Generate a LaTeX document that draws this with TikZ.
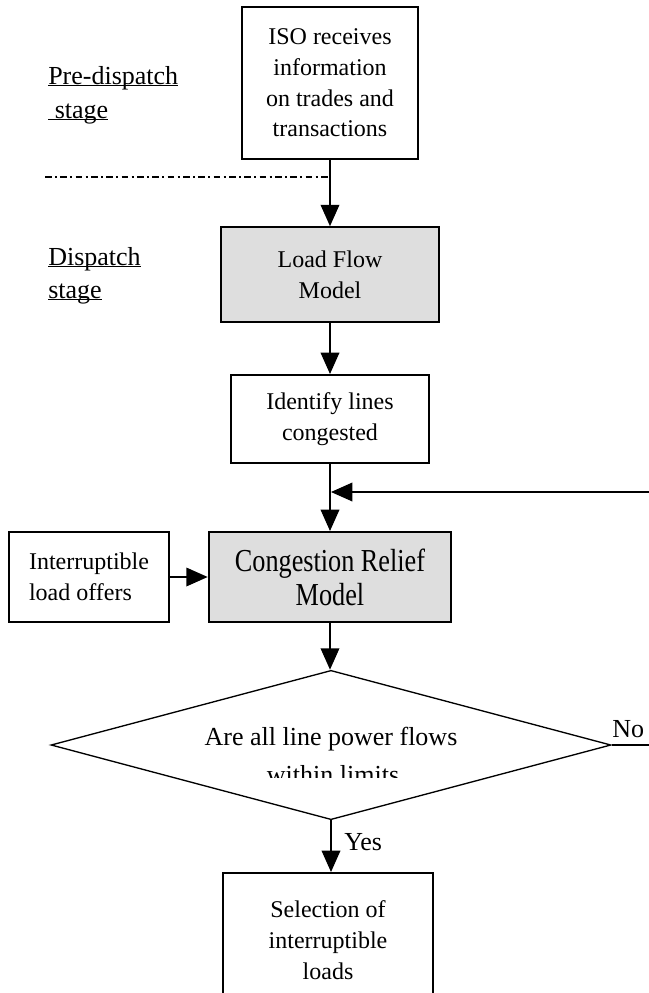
\documentclass[tikz,border=0pt]{standalone}
\usepackage{fontspec}
\setmainfont{Liberation Serif}
\newfontfamily\narrowfont[FakeStretch=0.82]{Liberation Serif}
\usepackage{tikz}
\usetikzlibrary{arrows.meta,shapes.geometric,positioning}
\definecolor{boxgrey}{gray}{0.87}
\newcommand{\stagelabel}[1]{\setbox0\hbox{#1}\rlap{\rule[-1.6pt]{\wd0}{0.9pt}}\box0}

\begin{document}
\begin{tikzpicture}[x=0.75pt,y=-0.75pt,
  box/.style={draw,line width=1.5pt,align=center,inner sep=2pt,font=\fontsize{18}{23}\selectfont},
  model/.style={box,fill=boxgrey},
  decision/.style={draw,diamond,line width=1pt,inner sep=0pt,minimum width=420pt,minimum height=112pt},
  flow/.style={line width=1pt,arrows={-Triangle[length=16pt,width=14pt]}},
  txt/.style={inner sep=0pt,font=\fontsize{19.5}{23}\selectfont}]
\path[use as bounding box] (0,0) rectangle (649,993);
\clip (0,0) rectangle (649,993);
\node[box,minimum width=132pt,minimum height=114pt] (iso) at (330,83) {ISO receives\\information\\on trades and\\transactions};
\node[model,minimum width=164pt,minimum height=71pt] (loadflow) at (330,274.5) {Load Flow\\Model};
\node[box,minimum width=148pt,minimum height=66pt] (lines) at (330,419) {Identify lines\\congested};
\node[model,minimum width=182pt,minimum height=67.5pt,font=\narrowfont\fontsize{24}{25.5}\selectfont] (relief) at (330,577) {Congestion Relief\\Model};
\node[box,align=left,minimum width=120pt,minimum height=67.5pt] (offers) at (89,577) {Interruptible\\load offers};
\node[decision] (check) at (331,745) {};
\node[box,minimum width=158pt,minimum height=100.5pt] (select) at (328,940) {Selection of\\interruptible\\loads};
\node[txt,anchor=base] (ask) at (331,745) {Are all line power flows};
\begin{scope}
\clip (0,0) rectangle (649,777);
\node[txt,anchor=base] (ask2) at (333,783) {within limits};
\end{scope}
\node[txt,anchor=base west] (pre) at (48,84) {\stagelabel{Pre-dispatch}};
\node[txt,anchor=base west] (pre2) at (48,118) {\stagelabel{\ stage}};
\node[txt,anchor=base west] (disp) at (48,265) {\stagelabel{Dispatch}};
\node[txt,anchor=base west] (disp2) at (48,298) {\stagelabel{stage}};
\node[txt,anchor=base west] (no) at (612,737) {No};
\node[txt,anchor=base west] (yes) at (344,850) {Yes};
\coordinate (join) at (331,492);
\draw[line width=1pt,dash pattern=on 5pt off 2.5pt on 1.5pt off 2.5pt] (45,177) -- (330,177);
\draw[flow] (iso) -- (loadflow);
\draw[flow] (loadflow) -- (lines);
\draw[flow] (lines) -- (relief);
\draw[flow] (offers) -- (relief);
\draw[flow] (relief.south) -- (relief.south |- check.north);
\draw[flow] (check.south) -- (check.south |- select.north);
\draw[flow] (check.east) -- ++(70,0) |- (join);
\end{tikzpicture}
\end{document}
